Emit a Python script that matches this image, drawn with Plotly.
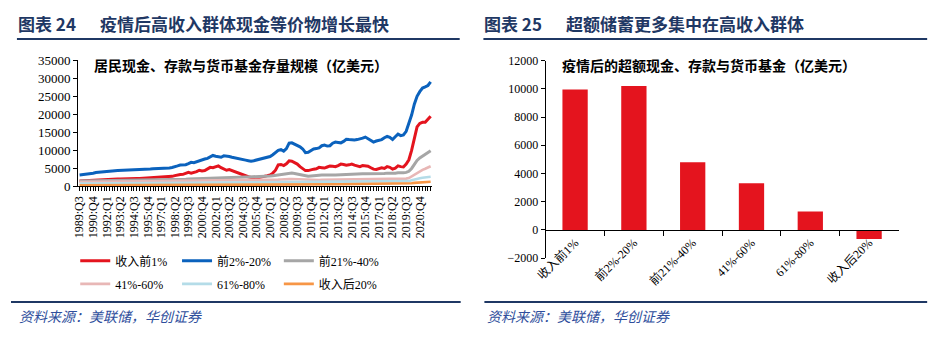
import plotly.graph_objects as go

W, H = 941, 342

# ---------------- data ----------------
quarters = [f"{y}:Q{q}" for y in range(1989, 2022) for q in range(1, 5)
            if not (y == 1989 and q < 3)]

top1 = [1550, 1600,
        1650, 1700, 1750, 1850, 1900, 1950, 2000, 2000, 2050, 2050, 2000, 2050,
        2100, 2100, 2150, 2100, 2100, 2150, 2150, 2200, 2200, 2250, 2250, 2300,
        2300, 2350, 2350, 2400, 2450, 2500, 2550, 2700, 2800, 3000, 3200, 3300,
        3350, 3600, 3900, 3700, 3800, 4100, 4500, 4300, 4400, 4800, 5300, 5200,
        5500, 5700, 5200, 4800, 4500, 4700, 4400, 4100, 3700, 3400, 3100, 2800,
        2700, 2500, 2400, 2400, 2500, 2600, 2800, 3000, 3200, 3700, 4500, 6000,
        6100, 5800, 6300, 7100, 7000, 6600, 6200, 5500, 4900, 4400, 4400, 4700,
        4800, 4900, 5300, 5200, 5100, 5400, 5700, 5600, 5500, 5800, 6200, 6100,
        5900, 6000, 6200, 5900, 5700, 5500, 5800, 5700, 5600, 5200, 4800, 4700,
        4900, 5200, 5000, 5500, 5300, 4800, 5100, 5700, 5500, 5400, 6200, 7400,
        10000, 13500, 16500, 17500, 17800, 17800, 18600, 19500]

top2_20 = [3200, 3250,
           3300, 3350, 3500, 3650, 3850, 3950, 4050, 4100, 4200, 4250, 4300, 4350,
           4400, 4420, 4450, 4500, 4550, 4500, 4550, 4600, 4650, 4700, 4750, 4800,
           4820, 4880, 4900, 4950, 5000, 4980, 5050, 5150, 5250, 5400, 5700, 5950,
           6000, 6050, 6350, 6700, 6600, 6900, 7200, 7500, 7600, 7800, 8200, 8600,
           8400, 8150, 8100, 8500, 8450, 8300, 8100, 7900, 7800, 7650, 7450, 7300,
           7150, 7000, 7150, 7350, 7500, 7650, 7800, 8000, 8300, 8800, 9300, 10000,
           10200, 9800, 10500, 12000, 12100, 11800, 11400, 11000, 10400, 9400, 9500, 9900,
           10400, 10500, 10700, 11300, 11500, 11200, 11300, 12000, 12300, 12200, 12100, 12500,
           13100, 13000, 12900, 12900, 13000, 13100, 13400, 13700, 13200, 12700, 12300, 12600,
           12700, 13000, 13500, 13900, 13600, 13000, 13800, 14500, 14100, 14300, 15300, 17300,
           19800, 22800, 25000, 26300, 27300, 27600, 28000, 29000]

top21_40 = [1500, 1510,
            1520, 1530, 1540, 1550, 1560, 1570, 1580, 1590, 1600, 1600, 1610, 1620,
            1620, 1630, 1640, 1650, 1650, 1660, 1670, 1680, 1690, 1700, 1710, 1720,
            1730, 1750, 1770, 1790, 1800, 1820, 1850, 1880, 1900, 1930, 1960, 1990,
            2000, 2020, 2050, 2080, 2100, 2150, 2200, 2250, 2300, 2350, 2400, 2450,
            2500, 2520, 2540, 2560, 2580, 2600, 2620, 2600, 2600, 2620, 2630, 2640,
            2650, 2660, 2680, 2700, 2720, 2750, 2800, 2850, 2900, 3000, 3100, 3250,
            3300, 3250, 3400, 3650, 3700, 3600, 3450, 3300, 3100, 2900, 2850, 2900,
            3000, 3050, 3100, 3150, 3150, 3100, 3150, 3200, 3200, 3250, 3300, 3300,
            3350, 3350, 3400, 3400, 3400, 3450, 3500, 3500, 3500, 3450, 3400, 3450,
            3500, 3550, 3600, 3700, 3650, 3600, 3700, 3800, 3750, 3800, 3900, 4200,
            5000, 6200, 7200, 7900, 8400, 8700, 9200, 9900]

p41_60 = [1250, 1260,
          1270, 1280, 1290, 1300, 1310, 1320, 1330, 1340, 1350, 1355, 1360, 1365,
          1370, 1380, 1385, 1390, 1400, 1405, 1410, 1415, 1420, 1425, 1430, 1440,
          1445, 1450, 1455, 1460, 1470, 1480, 1490, 1500, 1510, 1520, 1540, 1550,
          1560, 1570, 1580, 1590, 1600, 1610, 1620, 1630, 1640, 1650, 1670, 1680,
          1690, 1700, 1700, 1690, 1680, 1690, 1700, 1690, 1680, 1670, 1660, 1650,
          1640, 1650, 1660, 1680, 1700, 1720, 1740, 1760, 1780, 1820, 1860, 1900,
          1950, 1930, 1980, 2050, 2080, 2050, 1980, 1900, 1820, 1750, 1720, 1740,
          1770, 1790, 1800, 1820, 1830, 1820, 1840, 1860, 1870, 1890, 1900, 1910,
          1920, 1930, 1940, 1950, 1960, 1970, 1980, 1990, 1990, 1980, 1970, 1990,
          2000, 2020, 2040, 2060, 2060, 2050, 2080, 2100, 2100, 2120, 2180, 2350,
          2800, 3300, 3800, 4200, 4600, 4900, 5200, 5600]

p61_80 = [800, 805,
          810, 815, 820, 825, 830, 835, 840, 845, 850, 855, 860, 865,
          870, 875, 880, 885, 890, 895, 900, 905, 910, 915, 920, 925,
          930, 935, 940, 945, 950, 955, 960, 965, 970, 980, 990, 1000,
          1000, 1010, 1020, 1030, 1040, 1050, 1060, 1070, 1080, 1090, 1100, 1110,
          1120, 1125, 1120, 1115, 1110, 1115, 1120, 1110, 1100, 1095, 1090, 1085,
          1080, 1085, 1090, 1100, 1110, 1120, 1130, 1140, 1150, 1170, 1190, 1210,
          1230, 1220, 1240, 1270, 1280, 1260, 1230, 1200, 1170, 1140, 1130, 1140,
          1150, 1160, 1170, 1180, 1190, 1185, 1195, 1200, 1210, 1220, 1230, 1240,
          1250, 1255, 1260, 1270, 1280, 1285, 1290, 1300, 1300, 1295, 1290, 1300,
          1310, 1320, 1330, 1340, 1340, 1335, 1350, 1360, 1360, 1370, 1400, 1480,
          1700, 1950, 2150, 2300, 2420, 2520, 2600, 2700]

bottom20 = [300, 305,
            310, 315, 320, 325, 330, 335, 340, 345, 350, 352, 355, 358,
            360, 362, 365, 368, 370, 372, 375, 378, 380, 382, 385, 388,
            390, 393, 396, 400, 403, 406, 410, 413, 416, 420, 424, 428,
            432, 436, 440, 444, 448, 452, 456, 460, 465, 470, 475, 480,
            485, 488, 490, 492, 494, 496, 498, 500, 500, 500, 502, 504,
            506, 508, 510, 515, 520, 525, 530, 535, 540, 548, 556, 565,
            575, 570, 580, 595, 605, 600, 590, 580, 575, 570, 570, 575,
            580, 585, 590, 595, 600, 600, 605, 610, 615, 620, 625, 630,
            635, 640, 645, 650, 655, 660, 665, 670, 672, 670, 668, 672,
            680, 690, 700, 710, 715, 712, 720, 730, 735, 740, 760, 800,
            900, 1000, 1080, 1130, 1180, 1220, 1260, 1300]

series_names = ["收入前1%", "前2%-20%", "前21%-40%", "41%-60%", "61%-80%", "收入后20%"]
series_values = [top1, top2_20, top21_40, p41_60, p61_80, bottom20]

bar_categories = ["收入前1%", "前2%-20%", "前21%-40%", "41%-60%", "61%-80%", "收入后20%"]
bar_values = [9950, 10200, 4800, 3300, 1300, -650]

label_step = 5
left_range = [0, 35000]
right_range = [-2000, 12000]

# ---------------- styles ----------------
line_colors = ["#E4141E", "#0B62BD", "#A6A6A6", "#E8B7B6", "#B4DCE8", "#F79646"]
line_widths = [3, 3, 3, 2.6, 2.6, 2.6]
legend_ids = ["legend", "legend2", "legend3", "legend", "legend2", "legend3"]
bar_color = "#E4141E"
navy = "#1F3864"
foot_blue = "#2E4E9C"
serif = "Liberation Serif, Times New Roman, Noto Sans CJK SC, serif"
cjk = "Noto Sans CJK SC, sans-serif"

fig = go.Figure()
xs = list(range(len(quarters)))
for k, (name, vals, c, w, lg) in enumerate(zip(series_names, series_values, line_colors, line_widths, legend_ids)):
    fig.add_trace(go.Scatter(x=xs, y=vals, mode="lines", name=name,
                             line=dict(color=c, width=w), xaxis="x", yaxis="y",
                             legend=lg, legendgroup=f"g{k}", hoverinfo="skip"))

fig.add_trace(go.Bar(x=bar_categories, y=bar_values, marker=dict(color=bar_color, line=dict(width=0)),
                     width=0.43, xaxis="x2", yaxis="y2", showlegend=False))

tick_idx = list(range(0, len(quarters), label_step))

y2_dom = [79.3 / H, 286 / H]
zero_pos = y2_dom[0] + (0 - right_range[0]) / (right_range[1] - right_range[0]) * (y2_dom[1] - y2_dom[0])

axis_common = dict(showgrid=False, zeroline=False, showline=True, linecolor="black",
                   linewidth=1, ticks="outside", tickcolor="black", tickwidth=1)

legend_common = dict(orientation="v", xanchor="left", yanchor="middle", y=(H - 277.5) / H,
                     bgcolor="rgba(0,0,0,0)", tracegroupgap=4,
                     font=dict(family=serif, size=12, color="black"))

fig.update_layout(
    width=W, height=H, margin=dict(l=0, r=0, t=0, b=0),
    paper_bgcolor="white", plot_bgcolor="white",
    xaxis=dict(domain=[68 / W, 426 / W], range=[-0.5, len(quarters) - 0.5], anchor="y",
               tickmode="array", tickvals=tick_idx, ticktext=[quarters[i] for i in tick_idx],
               tickangle=-90, ticklen=4,
               minor=dict(ticks="outside", dtick=1, tick0=0, ticklen=4, tickcolor="black", showgrid=False),
               tickfont=dict(family=serif, size=12, color="black"), **axis_common),
    yaxis=dict(domain=[154.3 / H, 286.3 / H], range=left_range, anchor="x",
               tickmode="linear", tick0=0, dtick=5000, ticklen=4, tickformat="d",
               tickfont=dict(family=serif, size=13, color="black"), **axis_common),
    xaxis2=dict(domain=[541 / W, 898 / W], anchor="free", position=zero_pos, type="category",
                tickson="boundaries", ticklen=5, tickangle=-45,
                tickfont=dict(family=serif, size=12, color="black"), **axis_common),
    yaxis2=dict(domain=y2_dom, range=right_range, anchor="x2",
                tickmode="linear", tick0=0, dtick=2000, ticklen=4, tickformat="d",
                tickfont=dict(family=serif, size=12, color="black"), **axis_common),
    bargap=0.57,
    legend=dict(x=65 / W, **legend_common),
    legend2=dict(x=168 / W, **legend_common),
    legend3=dict(x=271 / W, **legend_common),
)

ann = []
def add_text(x, y, text, size, color, family=cjk, bold=False, italic=False):
    t = text
    if bold:
        t = f"<b>{t}</b>"
    if italic:
        t = f"<i>{t}</i>"
    ann.append(dict(x=x / W, y=(H - y) / H, xref="paper", yref="paper", text=t, showarrow=False,
                    xanchor="left", yanchor="middle", font=dict(family=family, size=size, color=color)))

add_text(5, 17, "图表 24", 17, navy, bold=True)
add_text(88, 17, "疫情后高收入群体现金等价物增长最快", 17, navy, bold=True)
add_text(477, 17, "图表 25", 17, navy, bold=True)
add_text(560, 17, "超额储蓄更多集中在高收入群体", 17, navy, bold=True)
add_text(82, 61, "居民现金、存款与货币基金存量规模（亿美元）", 14, "black", bold=True)
add_text(555, 61, "疫情后的超额现金、存款与货币基金（亿美元）", 14, "black", bold=True)
add_text(6, 323, "资料来源：美联储，华创证券", 14, foot_blue, italic=True)
add_text(480, 323, "资料来源：美联储，华创证券", 14, foot_blue, italic=True)
fig.update_layout(annotations=ann)

shapes = []
for x0, x1, y in [(6, 454, 33.5), (478, 927, 33.5), (0, 455, 308.5), (479, 927, 308.5)]:
    shapes.append(dict(type="line", xref="paper", yref="paper", x0=x0 / W, x1=x1 / W,
                       y0=(H - y) / H, y1=(H - y) / H, line=dict(color=navy, width=2)))
fig.update_layout(shapes=shapes)

fig.write_html("out.html")
